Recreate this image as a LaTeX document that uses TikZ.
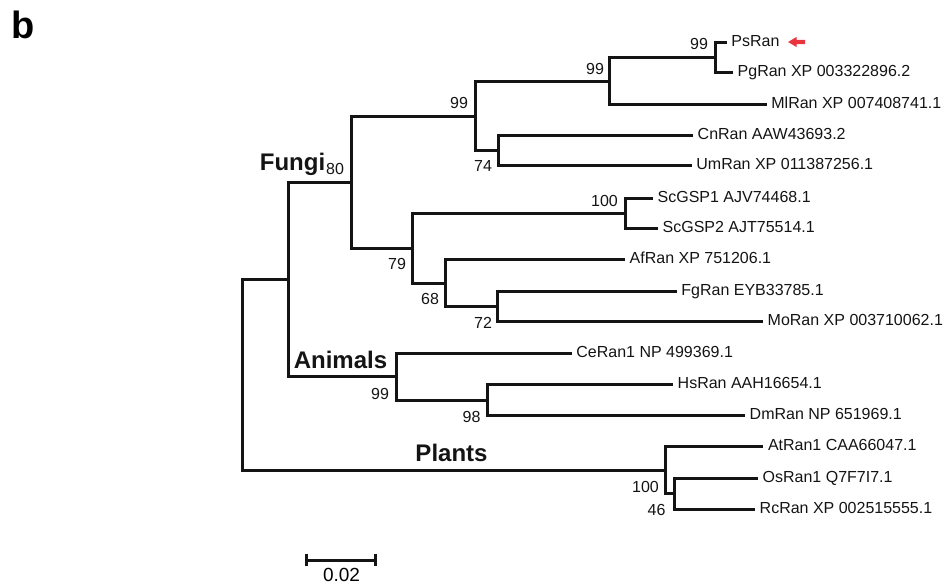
\documentclass[tikz,border=0pt]{standalone}
\usepackage{fontspec}
\setmainfont{Liberation Sans}
\usepackage{xcolor}
\definecolor{ink}{RGB}{20,20,20}
\definecolor{markred}{RGB}{232,52,60}
\usepackage{tikz}
\usetikzlibrary{positioning, calc}

\begin{document}
\begin{tikzpicture}[
        x=1pt, y=-1pt,
        leaf/.style={anchor=west, inner xsep=4.5pt, inner ysep=0pt, text height=11pt, text depth=3.6pt, text=ink, font=\fontsize{16}{18}\selectfont},
        boot/.style={inner sep=0pt, text=ink, font=\fontsize{16}{18}\selectfont},
        clade/.style={inner sep=0pt, text height=17pt, text depth=0pt, text=ink, font=\fontsize{24}{28}\selectfont\bfseries},
        branch/.style={line width=2.6pt, draw=ink}
    ]
        \useasboundingbox (0,0) rectangle (948,585);
        \node[inner sep=0pt, font=\fontsize{38}{40}\selectfont\bfseries] (panel) at (23,25) {b};

        % leaves
        \node[leaf] (ps) at (726.7,42.5) {PsRan};
        \node[leaf] (pg) at (733,72.5) {PgRan XP 003322896.2};
        \node[leaf] (ml) at (766.7,104.5) {MlRan XP 007408741.1};
        \node[leaf] (cn) at (693,135.5) {CnRan AAW43693.2};
        \node[leaf] (um) at (691.7,165.5) {UmRan XP 011387256.1};
        \node[leaf] (sc1) at (653,198.5) {ScGSP1 AJV74468.1};
        \node[leaf] (sc2) at (658,228.5) {ScGSP2 AJT75514.1};
        \node[leaf] (af) at (625,259.5) {AfRan XP 751206.1};
        \node[leaf] (fg) at (676.7,291.5) {FgRan EYB33785.1};
        \node[leaf] (mo) at (763,321.5) {MoRan XP 003710062.1};
        \node[leaf] (ce) at (571.7,353.5) {CeRan1 NP 499369.1};
        \node[leaf] (hs) at (673,384.5) {HsRan AAH16654.1};
        \node[leaf] (dm) at (745,415.5) {DmRan NP 651969.1};
        \node[leaf] (at) at (763.3,446.5) {AtRan1 CAA66047.1};
        \node[leaf] (os) at (758,478.5) {OsRan1 Q7F7I7.1};
        \node[leaf] (rc) at (755,509.5) {RcRan XP 002515555.1};

        % inner nodes
        \coordinate (nps) at (715.5,57.5);
        \coordinate (nml) at (609.5,81.5);
        \coordinate (ncn) at (498.5,150.5);
        \coordinate (nbasid) at (475.5,116.5);
        \coordinate (nsc) at (625.5,213.5);
        \coordinate (nfg) at (497.5,306.5);
        \coordinate (naf) at (445.5,283.5);
        \coordinate (nasco) at (412.5,248.5);
        \coordinate (nfungi) at (351.5,182.5);
        \coordinate (nhs) at (487.5,400.5);
        \coordinate (nanimals) at (396.5,376.5);
        \coordinate (nopist) at (288.5,279.5);
        \coordinate (nos) at (674.5,493.5);
        \coordinate (nplants) at (665.5,470.5);
        \coordinate (nroot) at (242.5,375);

        \draw[branch] (ps.west) -| (nps) |- (pg.west);
        \draw[branch] (nps) -| (nml) |- (ml.west);
        \draw[branch] (cn.west) -| (ncn) |- (um.west);
        \draw[branch] (nml) -| (nbasid) |- (ncn);
        \draw[branch] (sc1.west) -| (nsc) |- (sc2.west);
        \draw[branch] (fg.west) -| (nfg) |- (mo.west);
        \draw[branch] (af.west) -| (naf) |- (nfg);
        \draw[branch] (nsc) -| (nasco) |- (naf);
        \draw[branch] (nbasid) -| (nfungi) |- (nasco);
        \draw[branch] (hs.west) -| (nhs) |- (dm.west);
        \draw[branch] (ce.west) -| (nanimals) |- (nhs);
        \draw[branch] (nfungi) -| (nopist) |- (nanimals);
        \draw[branch] (os.west) -| (nos) |- (rc.west);
        \draw[branch] (at.west) -| (nplants) |- (nos);
        \draw[branch] (nopist) -| (nroot) |- (nplants);

        % bootstrap values
        \node[boot] (b1) at (699,44) {99};
        \node[boot] (b2) at (595,69) {99};
        \node[boot] (b3) at (459,103) {99};
        \node[boot] (b4) at (483,166) {74};
        \node[boot] (b5) at (335,169) {80};
        \node[boot] (b6) at (604.5,201) {100};
        \node[boot] (b7) at (397,263.5) {79};
        \node[boot] (b8) at (430,298.5) {68};
        \node[boot] (b9) at (483,322.5) {72};
        \node[boot] (b10) at (380,393.5) {99};
        \node[boot] (b11) at (471.5,416.5) {98};
        \node[boot] (b12) at (645.5,486.5) {100};
        \node[boot] (b13) at (656.5,510) {46};

        % clades
        \node[clade] (fungi) at (292.5,162.5) {Fungi};
        \node[clade] (animals) at (340.5,360.5) {Animals};
        \node[clade] (plants) at (451.5,453) {Plants};

        % marker
        \fill[markred] (788,42) -- (796.5,37) -- (796.5,39.8) -- (805,39.8) -- (805,44.2) -- (796.5,44.2) -- (796.5,47) -- cycle;

        % scale bar
        \coordinate (sbl) at (306.5,560.5);
        \coordinate (sbr) at (375.5,560.5);
        \draw[branch] (sbl) -- (sbr);
        \draw[branch] ($(sbl)+(0,-7)$) -- ($(sbl)+(0,5)$);
        \draw[branch] ($(sbr)+(0,-7)$) -- ($(sbr)+(0,5)$);
        \node[inner sep=0pt, font=\fontsize{19}{21}\selectfont] (scale) at (341.5,575) {0.02};
    \end{tikzpicture}
\end{document}
